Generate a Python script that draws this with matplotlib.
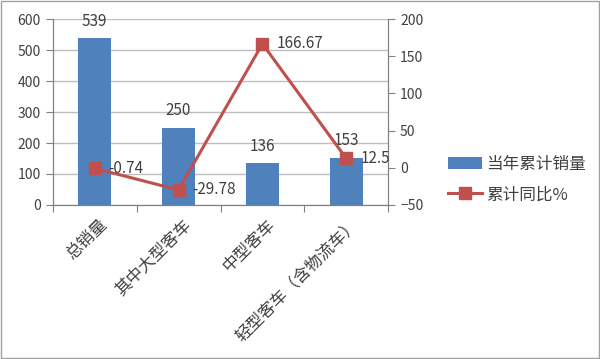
import matplotlib.pyplot as plt
import numpy as np

plt.rcParams['font.family'] = ['Noto Sans CJK SC', 'DejaVu Sans']

categories = ['总销量', '其中大型客车', '中型客车', '轻型客车（含物流车）']
salesValues = [539, 250, 136, 153]
yoyValues = [-0.74, -29.78, 166.67, 12.5]

BAR_COLOUR = '#4F81BD'
LINE_COLOUR = '#C0504D'
GRID_COLOUR = '#BFBFBF'
TEXT_COLOUR = '#404040'

fig = plt.figure(figsize=(6.0, 3.59), dpi=100)
ax = fig.add_axes([0.088, 0.429, 0.559, 0.518])
ax2 = ax.twinx()

x = np.arange(len(categories))
bars = ax.bar(x, salesValues, width=0.4, color=BAR_COLOUR, label='当年累计销量', zorder=2)
ax2.plot(x, yoyValues, color=LINE_COLOUR, linewidth=2.2, marker='s', markersize=8,
         label='累计同比%', zorder=3)

ax.set_xlim(-0.5, len(categories) - 0.5)
ax.set_ylim(0, 600)
ax.set_yticks(range(0, 601, 100))
ax2.set_ylim(-50, 200)
ax2.set_yticks(range(-50, 201, 50))

ax.yaxis.grid(color=GRID_COLOUR, linewidth=1, zorder=0)
ax.set_axisbelow(True)

ax.set_xticks(np.arange(-0.5, len(categories), 1.0))
ax.set_xticklabels([])
ax.set_xticks(x + 0.05, minor=True)
ax.set_xticklabels(categories, minor=True, rotation=45, ha='right', va='top',
                   rotation_mode='anchor', fontsize=12, color=TEXT_COLOUR)
ax.tick_params(axis='x', which='minor', length=0, pad=8)
ax.tick_params(axis='x', which='major', length=5, color='#808080')
ax.tick_params(axis='y', length=5, color='#808080', labelsize=10, labelcolor=TEXT_COLOUR)
ax2.tick_params(axis='y', length=5, color='#808080', labelsize=10, labelcolor=TEXT_COLOUR)

for a in (ax, ax2):
    a.spines['top'].set_visible(False)
    a.spines['left'].set_color('#808080')
    a.spines['right'].set_color('#808080')
    a.spines['bottom'].set_color('#808080')

for xi, v in zip(x, salesValues):
    ax.annotate(str(v), (xi, v), xytext=(0, 6), textcoords='offset points',
                ha='center', va='bottom', fontsize=11, color=TEXT_COLOUR)
for xi, v in zip(x, yoyValues):
    ax2.annotate('{:g}'.format(v), (xi, v), xytext=(10, 0), textcoords='offset points',
                 ha='left', va='center', fontsize=11, color=TEXT_COLOUR, zorder=4)

handles = [bars, ax2.get_lines()[0]]
fig.legend(handles, [h.get_label() for h in handles], loc='center left',
           bbox_to_anchor=(0.722, 0.50), frameon=False, fontsize=12,
           handlelength=2.0, handletextpad=0.3, labelspacing=0.8, labelcolor=TEXT_COLOUR)

# frame round the whole picture
fig.patches.append(plt.Rectangle((0.002, 0.003), 0.996, 0.994, transform=fig.transFigure,
                                 fill=False, edgecolor='#A0A0A0', linewidth=1))

fig.savefig('out.png', dpi=100)
